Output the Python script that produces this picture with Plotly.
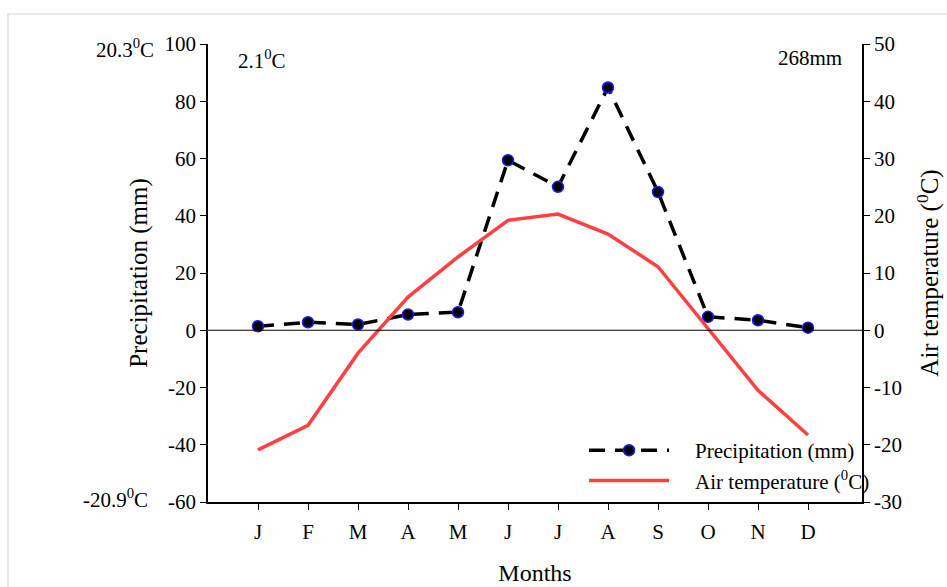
import plotly.graph_objects as go

months = ["J", "F", "M", "A", "M", "J", "J", "A", "S", "O", "N", "D"]
precip_mm = [1.4, 2.8, 2.0, 5.5, 6.3, 59.4, 50.1, 84.8, 48.3, 4.7, 3.5, 0.9]
air_temp_c = [-20.9, -16.6, -4.0, 5.8, 12.8, 19.2, 20.3, 16.8, 11.1, 0.3, -10.5, -18.3]
left_ticks = [-60, -40, -20, 0, 20, 40, 60, 80, 100]
right_ticks = [-30, -20, -10, 0, 10, 20, 30, 40, 50]

idx = list(range(len(months)))
FONT = "Liberation Serif, Times New Roman, serif"
GAP = "&nbsp;" * 4

fig = go.Figure()
fig.add_trace(go.Scatter(
    x=idx, y=precip_mm, name=GAP + "Precipitation (mm)", mode="lines+markers",
    line=dict(color="black", width=3.5, dash="16px,10px"),
    marker=dict(color="black", size=11, line=dict(color="#1a1aff", width=1.5)),
    yaxis="y"))
fig.add_trace(go.Scatter(
    x=idx, y=air_temp_c, name=GAP + "Air temperature (<sup>0</sup>C)", mode="lines",
    line=dict(color="#ff4040", width=3.5),
    yaxis="y2"))

axis_common = dict(showgrid=False, zeroline=False, showline=True, linecolor="black",
                   linewidth=1.5, ticks="outside", ticklen=6, tickcolor="black",
                   tickfont=dict(size=21), automargin=False)

fig.update_layout(
    width=947, height=587,
    margin=dict(l=208, r=85, t=44, b=85),
    paper_bgcolor="white", plot_bgcolor="white",
    font=dict(family=FONT, size=21, color="black"),
    showlegend=True,
    legend=dict(x=0.575, y=0.157, xanchor="left", yanchor="top",
                bgcolor="rgba(0,0,0,0)", itemwidth=80,
                font=dict(family=FONT, size=21), tracegroupgap=0),
    xaxis=dict(range=[-1, 12.08], tickmode="array", tickvals=idx, ticktext=months,
               ticklabelstandoff=4,
               title=dict(text="Months", font=dict(size=24), standoff=21),
               **axis_common),
    yaxis=dict(range=[-60, 100], tickmode="array", tickvals=left_ticks,
               ticktext=[str(v) for v in left_ticks],
               title=dict(text="Precipitation (mm)", font=dict(size=25), standoff=10),
               **axis_common),
    yaxis2=dict(range=[-30, 50], tickmode="array", tickvals=right_ticks,
                ticktext=[str(v) for v in right_ticks],
                overlaying="y", side="right",
                title=dict(text="Air temperature (<sup>0</sup>C)", font=dict(size=25), standoff=20),
                **axis_common),
)

# zero line across plot
fig.add_shape(type="line", xref="paper", yref="y", x0=0, x1=1, y0=0, y1=0,
              line=dict(color="black", width=1.2))
# outer light-gray frame
fig.add_shape(type="rect", xref="paper", yref="paper",
              x0=(8 - 208) / 654, x1=(980 - 208) / 654,
              y0=(502 - 640) / 458, y1=(502 - 14) / 458,
              line=dict(color="#d4d4d4", width=1.2), fillcolor="rgba(0,0,0,0)", layer="below")

def px_x(p):
    return (p - 208) / 654

def px_y(p):
    return (502 - p) / 458

annots = [
    ("20.3<sup>0</sup>C", 125, 48),
    ("2.1<sup>0</sup>C", 262, 60),
    ("268mm", 810, 58),
    ("-20.9<sup>0</sup>C", 115, 498),
]
for text, x, y in annots:
    fig.add_annotation(text=text, xref="paper", yref="paper", x=px_x(x), y=px_y(y),
                       showarrow=False, xanchor="center", yanchor="middle",
                       font=dict(family=FONT, size=21, color="black"))

fig.write_html("out.html")
